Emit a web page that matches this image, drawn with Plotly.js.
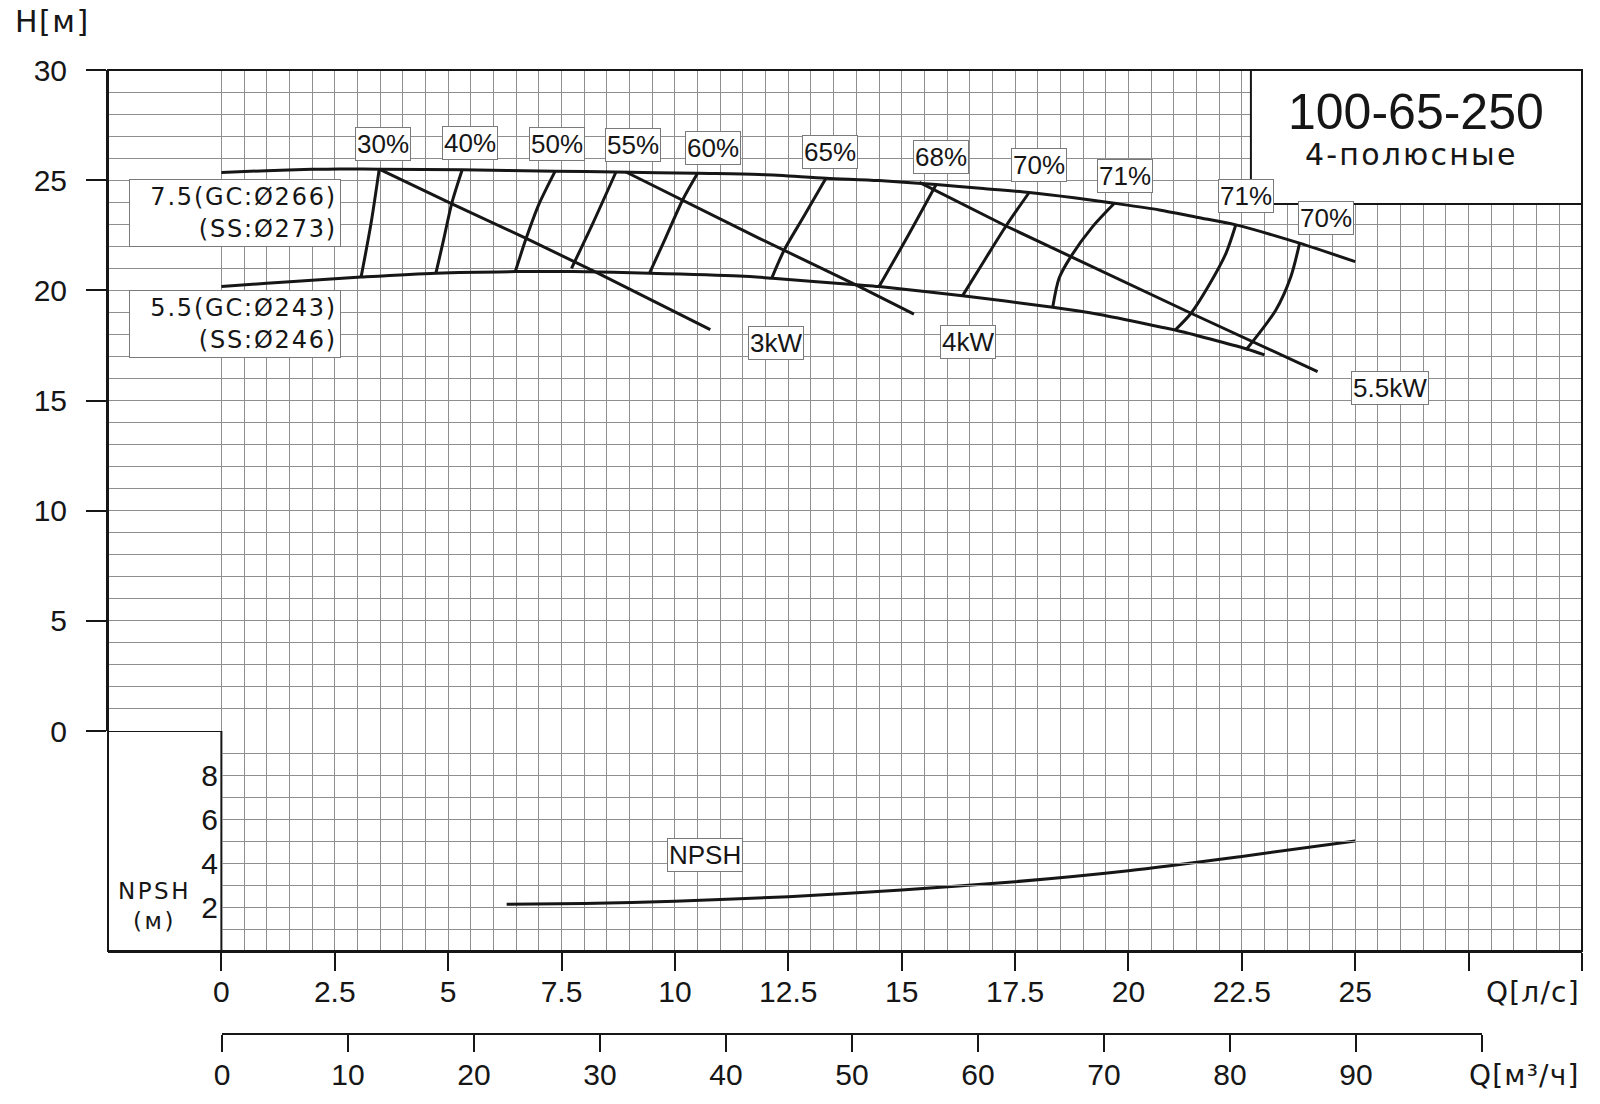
<!DOCTYPE html>
<html>
<head>
<meta charset="utf-8">
<script src="https://cdn.plot.ly/plotly-3.0.1.min.js"></script>
<style>
html,body{margin:0;padding:0;background:#fff;}
#chart{width:1600px;height:1104px;}
text.annotation-text[data-unformatted*="GC"]{letter-spacing:1.8px;}
text.annotation-text[data-unformatted*="полюс"]{letter-spacing:2.2px;}
text.annotation-text[data-unformatted^="NPSH<br>"]{letter-spacing:2.5px;}
text.annotation-text[data-unformatted^="H["]{letter-spacing:1.5px;}
text.annotation-text[data-unformatted^="Q["]{letter-spacing:1.2px;}
</style>
</head>
<body>
<div id="chart"></div>
<script>
// ---------------- data ----------------
// Head curves, Q in л/с, H in м
const Q_TOP = [0, 1, 2, 2.6, 3.48, 5.31, 7.36, 8.7, 10.5, 11.86, 13.33, 14.5, 15.76, 16.8, 17.81, 18.8, 19.69, 20.68, 21.5, 22.37, 23.77, 25.0];
const H_TOP = [25.35, 25.43, 25.49, 25.51, 25.5, 25.47, 25.41, 25.37, 25.31, 25.26, 25.09, 24.98, 24.8, 24.62, 24.44, 24.2, 23.95, 23.65, 23.32, 22.97, 22.14, 21.3];

const Q_LOW = [0, 1, 2, 3.08, 4.73, 6.5, 7.75, 9.44, 11.42, 12.15, 13.99, 14.5, 16.34, 18.33, 19.36, 20.68, 21.03, 22.59, 23.0];
const H_LOW = [20.17, 20.32, 20.46, 20.6, 20.78, 20.85, 20.85, 20.78, 20.65, 20.55, 20.25, 20.17, 19.75, 19.23, 18.9, 18.35, 18.2, 17.35, 17.07];

// Iso-efficiency lines
const EFF_LABELS = ['30%', '40%', '50%', '55%', '60%', '65%', '68%', '70%', '71%', '71%', '70%'];
const EFF_Q = [
  [3.48, 3.30, 3.08],
  [5.31, 5.08, 4.90, 4.73],
  [7.36, 7.0, 6.72, 6.48],
  [8.70, 8.19, 7.72],
  [10.5, 10.17, 9.79, 9.44],
  [13.33, 12.84, 12.41, 12.14],
  [15.76, 15.13, 14.5],
  [17.81, 17.3, 16.83, 16.34],
  [19.69, 19.21, 18.73, 18.47, 18.33],
  [22.36, 22.15, 21.78, 21.38, 21.03],
  [23.77, 23.58, 23.25, 22.59]
];
const EFF_H = [
  [25.5, 23.04, 20.6],
  [25.47, 23.95, 22.3, 20.78],
  [25.41, 23.9, 22.36, 20.85],
  [25.37, 23.04, 21.0],
  [25.31, 24.1, 22.36, 20.78],
  [25.09, 23.35, 21.83, 20.58],
  [24.8, 22.44, 20.17],
  [24.44, 22.92, 21.38, 19.75],
  [23.95, 22.89, 21.53, 20.55, 19.23],
  [22.93, 21.68, 20.25, 18.96, 18.2],
  [22.11, 20.62, 19.11, 17.29]
];

// Power lines
const POWER_LABELS = ['3kW', '4kW', '5.5kW'];
const POWER_Q = [
  [3.48, 5.06, 6.72, 8.3, 10.78],
  [8.92, 10.17, 11.86, 13.99, 15.27],
  [15.39, 17.3, 18.73, 20.68, 21.38, 24.17]
];
const POWER_H = [
  [25.5, 23.95, 22.36, 20.78, 18.22],
  [25.37, 24.1, 22.36, 20.25, 18.92],
  [24.9, 22.92, 21.53, 19.64, 18.96, 16.31]
];

// NPSH curve
const NPSH_Q = [6.29, 8, 10, 12.5, 15, 17.5, 20, 22.5, 25];
const NPSH_M = [2.12, 2.16, 2.26, 2.47, 2.77, 3.15, 3.65, 4.3, 5.0];

// Ticks
const Q_TICKS = [0, 2.5, 5, 7.5, 10, 12.5, 15, 17.5, 20, 22.5, 25, 27.5, 30];
const Q_TICK_TEXT = ['0', '2.5', '5', '7.5', '10', '12.5', '15', '17.5', '20', '22.5', '25', '', ''];
const M3H_TICKS = [0, 10, 20, 30, 40, 50, 60, 70, 80, 90, 100];
const M3H_TICK_TEXT = ['0', '10', '20', '30', '40', '50', '60', '70', '80', '90', ''];
const H_TICKS = [0, 5, 10, 15, 20, 25, 30];
const NPSH_TICKS = [2, 4, 6, 8];

// Curve labels
const DIAM_LABELS = ['7.5(GC:Ø266)<br>(SS:Ø273)', '5.5(GC:Ø243)<br>(SS:Ø246)'];
const TITLE_MAIN = '100-65-250';
const TITLE_SUB = '4-полюсные';

// ---------------- layout helpers ----------------
const W = 1600, HGT = 1104;
const M = {l: 108, r: 18, t: 70, b: 70};
const plotW = W - M.l - M.r, plotH = HGT - M.t - M.b;
const pxX = px => (px - M.l) / plotW;
const pxY = py => (HGT - M.b - py) / plotH;

const H_DOMAIN = [pxY(731), 1];
const NPSH_DOMAIN = [pxY(951), pxY(731)];

const INK = '#161616';
const GRID = '#8e8e8e';
const GRID_W = 1;
const BASE_FONT = 'Liberation Sans, Arial, sans-serif';
const WIDE_FONT = 'DejaVu Sans, Verdana, sans-serif';

const halfSteps = [];
for (let v = 0; v <= 30.001; v += 0.5) halfSteps.push(+v.toFixed(1));

const traces = [];
const lineStyle = {color: INK, width: 3, shape: 'spline', smoothing: 0.8};
traces.push({x: Q_TOP, y: H_TOP, xaxis: 'x', yaxis: 'y', mode: 'lines', line: lineStyle, hoverinfo: 'skip', showlegend: false});
traces.push({x: Q_LOW, y: H_LOW, xaxis: 'x', yaxis: 'y', mode: 'lines', line: lineStyle, hoverinfo: 'skip', showlegend: false});
EFF_Q.forEach((q, i) => traces.push({x: q, y: EFF_H[i], name: EFF_LABELS[i], xaxis: 'x', yaxis: 'y', mode: 'lines', line: lineStyle, hoverinfo: 'skip', showlegend: false}));
POWER_Q.forEach((q, i) => traces.push({x: q, y: POWER_H[i], name: POWER_LABELS[i], xaxis: 'x', yaxis: 'y', mode: 'lines', line: {color: INK, width: 3}, hoverinfo: 'skip', showlegend: false}));
traces.push({x: NPSH_Q, y: NPSH_M, name: 'NPSH', xaxis: 'x', yaxis: 'y2', mode: 'lines', line: lineStyle, hoverinfo: 'skip', showlegend: false});
// carrier for the m³/h axis
traces.push({x: [], y: [], xaxis: 'x2', yaxis: 'y2', mode: 'lines', hoverinfo: 'skip', showlegend: false});

// label positions (Q, H)
const EFF_LABEL_POS = [[3.56, 26.62], [5.48, 26.68], [7.40, 26.63], [9.07, 26.6], [10.84, 26.47], [13.42, 26.26], [15.87, 26.05], [18.02, 25.7], [19.92, 25.17], [22.6, 24.29], [24.36, 23.3]];
const POWER_LABEL_POS = [[12.23, 17.6], [16.46, 17.64], [25.77, 15.59]];
const DIAM_LABEL_POS = [[0.30, 23.52], [0.30, 18.45]];

const boxLabel = (text, x, y, extra) => Object.assign({
  text, x, y, xref: 'x', yref: 'y', showarrow: false,
  font: {family: BASE_FONT, size: 26, color: INK},
  bgcolor: '#ffffff', bordercolor: '#7a7a7a', borderwidth: 1, borderpad: 1,
  xanchor: 'center', yanchor: 'middle'
}, extra || {});

const annotations = [];
EFF_LABELS.forEach((t, i) => annotations.push(boxLabel(t, EFF_LABEL_POS[i][0], EFF_LABEL_POS[i][1])));
POWER_LABELS.forEach((t, i) => annotations.push(boxLabel(t, POWER_LABEL_POS[i][0], POWER_LABEL_POS[i][1])));
DIAM_LABELS.forEach((t, i) => annotations.push(boxLabel(t, DIAM_LABEL_POS[i][0], DIAM_LABEL_POS[i][1], {
  font: {family: WIDE_FONT, size: 24, color: INK}, align: 'right', width: 204, height: 60, borderpad: 3
})));
annotations.push(boxLabel('NPSH', 10.66, 4.36, {yref: 'y2'}));
annotations.push({text: TITLE_MAIN, x: 26.34, y: 28.08, xref: 'x', yref: 'y', showarrow: false,
  font: {family: BASE_FONT, size: 50, color: INK}, xanchor: 'center', yanchor: 'middle'});
annotations.push({text: TITLE_SUB, x: 26.25, y: 26.15, xref: 'x', yref: 'y', showarrow: false,
  font: {family: WIDE_FONT, size: 30, color: INK}, xanchor: 'center', yanchor: 'middle'});
annotations.push({text: 'H[м]', x: pxX(52), y: pxY(22), xref: 'paper', yref: 'paper', showarrow: false,
  font: {family: WIDE_FONT, size: 30, color: INK}, xanchor: 'center', yanchor: 'middle'});
annotations.push({text: 'NPSH<br>(м)', x: pxX(154), y: pxY(906), xref: 'paper', yref: 'paper', showarrow: false,
  font: {family: WIDE_FONT, size: 23, color: INK}, xanchor: 'center', yanchor: 'middle', align: 'center'});
annotations.push({text: 'Q[л/с]', x: 1, y: pxY(992), xref: 'paper', yref: 'paper', showarrow: false,
  font: {family: WIDE_FONT, size: 28, color: INK}, xanchor: 'right', yanchor: 'middle'});
annotations.push({text: 'Q[м³/ч]', x: 1, y: pxY(1075), xref: 'paper', yref: 'paper', showarrow: false,
  font: {family: WIDE_FONT, size: 28, color: INK}, xanchor: 'right', yanchor: 'middle'});

const shapes = [
  // NPSH scale box at the left
  {type: 'rect', xref: 'x', yref: 'y2', x0: -2.5, x1: 0, y0: 0, y1: 10, fillcolor: '#ffffff', line: {color: INK, width: 2}, layer: 'between'},
  // title box
  {type: 'rect', xref: 'x', yref: 'y', x0: 22.7, x1: 30, y0: 23.92, y1: 30, fillcolor: '#ffffff', line: {color: INK, width: 2}, layer: 'above'},
  // outer frame
  {type: 'rect', xref: 'paper', yref: 'paper', x0: 0, x1: 1, y0: NPSH_DOMAIN[0], y1: 1, fillcolor: 'rgba(0,0,0,0)', line: {color: INK, width: 2}, layer: 'above'}
];

const layout = {
  width: W, height: HGT,
  margin: M,
  paper_bgcolor: '#ffffff', plot_bgcolor: 'rgba(0,0,0,0)',
  font: {family: BASE_FONT, size: 30, color: INK},
  showlegend: false,
  xaxis: {
    domain: [0, 1], range: [-2.5, 30], anchor: 'y2',
    showline: true, linecolor: INK, linewidth: 2,
    ticks: 'outside', ticklen: 18, tickwidth: 2, tickcolor: INK,
    tickmode: 'array', tickvals: Q_TICKS, ticktext: Q_TICK_TEXT,
    tickfont: {size: 30, family: BASE_FONT, color: INK}, ticklabelstandoff: -5,
    showgrid: true, gridcolor: GRID, gridwidth: GRID_W,
    minor: {tickmode: 'array', tickvals: halfSteps, showgrid: true, gridcolor: GRID, gridwidth: GRID_W, ticks: ''},
    zeroline: false, fixedrange: true
  },
  xaxis2: {
    domain: [pxX(222), pxX(1482)], range: [0, 100], anchor: 'free', position: 0,
    showline: true, linecolor: INK, linewidth: 2,
    ticks: 'outside', ticklen: 17, tickwidth: 2, tickcolor: INK,
    tickmode: 'array', tickvals: M3H_TICKS, ticktext: M3H_TICK_TEXT,
    tickfont: {size: 30, family: BASE_FONT, color: INK}, ticklabelstandoff: -3,
    showgrid: false, zeroline: false, fixedrange: true
  },
  yaxis: {
    domain: H_DOMAIN, range: [0, 30], anchor: 'x',
    showline: true, linecolor: INK, linewidth: 2,
    ticks: 'outside', ticklen: 20, tickwidth: 2, tickcolor: INK,
    tickmode: 'array', tickvals: H_TICKS,
    tickfont: {size: 30, family: BASE_FONT, color: INK}, ticklabelstandoff: 13,
    showgrid: true, gridcolor: GRID, gridwidth: GRID_W,
    minor: {dtick: 1, showgrid: true, gridcolor: GRID, gridwidth: GRID_W, ticks: ''},
    zeroline: false, fixedrange: true
  },
  yaxis2: {
    domain: NPSH_DOMAIN, range: [0, 10], anchor: 'free', position: pxX(222), side: 'left',
    showline: false, ticks: '', tickmode: 'array', tickvals: NPSH_TICKS,
    tickfont: {size: 30, family: BASE_FONT, color: INK}, ticklabelstandoff: 4,
    showgrid: true, gridcolor: GRID, gridwidth: GRID_W,
    minor: {dtick: 1, showgrid: true, gridcolor: GRID, gridwidth: GRID_W, ticks: ''},
    zeroline: false, fixedrange: true
  },
  annotations, shapes
};

Plotly.newPlot('chart', traces, layout, {staticPlot: true, displayModeBar: false});
</script>
</body>
</html>
